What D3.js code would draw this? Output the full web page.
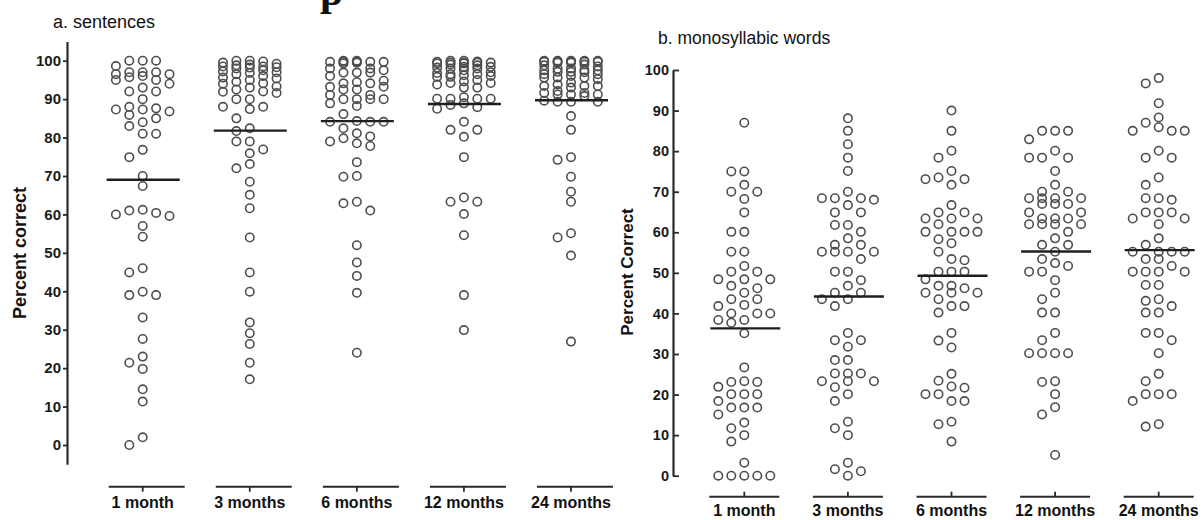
<!DOCTYPE html>
<html>
<head>
<meta charset="utf-8">
<script src="https://cdn.jsdelivr.net/npm/d3@7"></script>
<style>
  body { margin: 0; background: #fff; }
  svg { display: block; }
</style>
</head>
<body>
<svg id="chart" width="1203" height="520"></svg>
<script>
// ---- data ----
const categories = ["1 month", "3 months", "6 months", "12 months", "24 months"];
const yTicks = [0, 10, 20, 30, 40, 50, 60, 70, 80, 90, 100];

// a. sentences (percent correct)
const sent1m = [100, 100, 100, 98.6, 96, 97, 95, 97, 96.5, 97, 94, 95, 96.5, 95.7, 93, 92, 92, 90,
  87.3, 86.8, 88, 87.6, 85.9, 87.3, 85, 84, 83, 81, 81, 76.8, 74.9, 70, 67.4,
  61.2, 60.4, 59.6, 60, 61, 57, 54.2, 44.9, 46, 39, 39, 39.9, 33.2, 27.6,
  23, 21.4, 19.8, 14.5, 11.3, 0, 2];
const sent3m = [100, 99.5, 99.2, 98.5, 100, 99, 98.3, 98.5, 98, 98.2, 97, 96, 95.4, 95.6, 96.8, 97.2,
  94.1, 93.3, 92.5, 91.9, 91.6, 92, 93, 94, 90, 90, 99.8, 98.8, 97.5, 96.5, 95, 94.5,
  88, 87.4, 88, 85, 82.4, 81.7, 79, 79, 76.9, 75.9, 73.1, 72, 68.5, 65.1, 61.6,
  54, 44.9, 39.9, 31.9, 29.1, 26.3, 21.4, 17.1];
const sent6m = [99.7, 99.7, 99.5, 100, 99.7, 100, 99.7, 99.7, 99.3, 98, 96.9, 98, 96.9, 96.9, 97.5, 96,
  94.1, 93.2, 94.1, 93.2, 94.4, 94.8, 92.5, 92.5, 91.1, 90, 91.1, 90, 88.9, 90, 90, 88.2,
  86.1, 84.1, 84.1, 84.3, 84.1, 82.4, 81.1, 80.3, 79, 77.8, 78.5, 79.8, 73.6, 69.8, 70,
  62.9, 61, 63.3, 52, 47.5, 44, 39.6, 24];
const sent12m = [100, 99.5, 99.7, 99.3, 100, 99.5, 99.8, 99.3, 99.5, 98.2, 98.4, 98, 98, 98.4,
  95.8, 96.2, 96.5, 95.8, 96.5, 96, 93.8, 94.2, 93, 94.2, 94.6, 90.1, 90.1, 90.5, 90.1, 90.1,
  88.5, 87.9, 88.9, 87.5, 99, 97.5, 97, 95, 93, 99.5, 98.8, 96.8,
  84.1, 82, 82, 80.2, 74.9, 63.3, 64.4, 63.3, 60.1, 54.6, 39, 29.9];
const sent24m = [100, 99.7, 100, 99.8, 99.8, 99.7, 100, 99.7, 99.5, 100, 97.5, 97.9, 97.5, 97.1, 97.5,
  97.1, 98.5, 98.8, 95.6, 96.5, 95.6, 96, 95.2, 95.6, 93.4, 94.3, 93.4, 93.8, 93, 93.4,
  91.6, 91.2, 92.1, 91.6, 91.2, 91.2, 90.8, 89.6, 89.3, 89.3, 89.3, 99.5, 98, 97, 96.5, 100, 99,
  85.6, 82, 74.9, 74.2, 69.8, 65.9, 63.3, 55.1, 54, 49.3, 26.9];

// b. monosyllabic words (percent correct)
const word1m = [87, 75, 75, 71.7, 70, 70, 68.2, 64.9, 60.1, 60.1, 55.2, 55.2, 51.7, 50.3, 50.3,
  48.4, 48.4, 48.4, 46.8, 46.2, 45.1, 43.5, 43.5, 42.1, 41.8, 40, 40, 40, 38.4, 38.4, 37.7, 35.1,
  26.7, 23.3, 23.1, 23.1, 21.9, 20.1, 20.1, 20.1, 18.4, 16.8, 16.8, 16.8, 15.1, 13.1, 11.7, 10,
  8.4, 3.2, 0, 0, 0, 0, 0];
const word3m = [88.1, 85, 81.7, 78.4, 75.1, 70, 68.4, 68.4, 68.4, 68, 66.7, 64.9, 64.9, 61.8, 61.8,
  60.1, 58.5, 56.9, 56.9, 55.2, 55.2, 55.2, 55.2, 53.4, 50.3, 50.3, 48.2, 46.8, 45.1, 45.1,
  43.5, 43.5, 41.8, 35.2, 33.4, 33.4, 31.8, 28.5, 28.5, 25.2, 25.2, 25.2, 23.3, 23.3, 23.3,
  21.8, 20.1, 18.4, 13.3, 11.7, 10, 3.2, 1.6, 1.1, 0];
const word6m = [90, 85, 80.1, 78.4, 75.1, 73.5, 73.1, 73.1, 71.7, 66.7, 64.9, 64.9, 63.4, 63.4, 63.4,
  62, 60.1, 60.1, 60.1, 60.1, 58.3, 57.3, 55.2, 53.4, 53.1, 50.3, 50.3, 50.3, 48.4, 46.8, 46.2,
  46.8, 45.1, 45.1, 45.1, 43.5, 41.8, 41.8, 40.2, 35.2, 33.3, 31.6, 25.1, 23.4, 22, 21.7,
  20.1, 20.1, 18.4, 18.4, 13.3, 12.7, 8.4];
const word12m = [85, 85, 85, 82.9, 80.1, 78.4, 78.4, 78.4, 75.1, 71.7, 70, 70, 68.4, 68.4, 68.4, 68.4,
  67, 67, 67, 64.9, 64.9, 63.4, 63.4, 63.4, 62, 62, 62, 62, 60.1, 58.5, 56.9, 56.9, 55.2,
  53.4, 52.4, 51.7, 50.3, 50.3, 48.2, 45.1, 43.5, 40.2, 40.2, 35.2, 33.4, 30.2, 30.2, 30.2, 30.2,
  23.3, 23.1, 20.1, 16.9, 15.1, 5.1];
const word24m = [98, 96.7, 91.8, 88.3, 87, 85, 85, 85, 85.9, 80.1, 78.4, 78.4, 73.5, 71.7, 68.4, 68.4,
  68, 64.9, 64.9, 64.9, 63.4, 63.4, 62, 58.5, 56.9, 55.2, 55.2, 55.2, 55.2, 53.4, 53.4, 51.7,
  50.3, 50.3, 50.3, 50.3, 47, 47, 43.1, 43.5, 41.8, 40.2, 40.2, 35.2, 35.2, 33.4, 30.2,
  25.1, 23.3, 20.1, 20.1, 20.1, 18.4, 12.1, 12.7];

const svg = d3.select("#chart");
const FONT = "'Liberation Sans', Arial, Helvetica, sans-serif";

// heading glyph that is cropped at the top edge in the original
svg.append("text")
  .attr("x", 320).attr("y", 5)
  .style("font-family", "'Liberation Serif', 'Times New Roman', serif")
  .style("font-weight", "bold").style("font-size", "42px")
  .attr("fill", "#111")
  .text("p");

// simple GraphPad-like column scatter: slots next to each other
function swarm(values, cx, y, step, minDist) {
  const slots = [0, -1, 1, -2, 2];
  const placed = [];
  values.slice().sort((a, b) => b - a).forEach(v => {
    const py = y(v);
    let pick = null, fallback = cx, bestD = -1;
    for (const k of slots) {
      const px = cx + k * step;
      let dmin = Infinity;
      placed.forEach(p => {
        const d = Math.hypot(p.x - px, p.y - py);
        if (d < dmin) dmin = d;
      });
      if (dmin >= minDist) { pick = px; break; }
      if (dmin > bestD) { bestD = dmin; fallback = px; }
    }
    placed.push({ x: pick === null ? fallback : pick, y: py, v: v });
  });
  return placed;
}

function drawPanel(cfg) {
  const g = svg.append("g");

  const x = d3.scalePoint().domain(categories).range(cfg.xRange);
  const y = d3.scaleLinear().domain([0, 100]).range(cfg.yRange);
  const yAxisScale = d3.scaleLinear().domain(cfg.axisDomain)
    .range([y(cfg.axisDomain[0]), y(cfg.axisDomain[1])]);

  // title
  g.append("text")
    .attr("x", cfg.title.x).attr("y", cfg.title.y)
    .style("font-family", FONT).style("font-size", cfg.title.size + "px")
    .attr("fill", "#111")
    .text(cfg.title.text);

  // y axis
  const axis = d3.axisLeft(yAxisScale)
    .tickValues(yTicks)
    .tickSizeInner(cfg.tickSize)
    .tickSizeOuter(0)
    .tickPadding(cfg.tickPad);
  const ya = g.append("g")
    .attr("transform", `translate(${cfg.axisX},0)`)
    .call(axis);
  ya.select(".domain").attr("stroke", "#2a2a2a").attr("stroke-width", 2.2);
  ya.selectAll(".tick line").attr("stroke", "#2a2a2a").attr("stroke-width", 1.8);
  ya.selectAll(".tick text")
    .style("font-family", FONT).style("font-weight", "bold")
    .style("font-size", cfg.tickFont + "px").attr("fill", "#1a1a1a");

  // y axis title
  g.append("text")
    .attr("transform", `translate(${cfg.yTitle.x},${cfg.yTitle.y}) rotate(-90)`)
    .attr("text-anchor", "middle")
    .style("font-family", FONT).style("font-weight", "bold")
    .style("font-size", cfg.yTitle.size + "px").attr("fill", "#111")
    .text(cfg.yTitle.text);

  // x axis: one short segment per group
  categories.forEach((c, i) => {
    const cx = x(c);
    g.append("line")
      .attr("x1", cx + cfg.seg[0]).attr("x2", cx + cfg.seg[1])
      .attr("y1", cfg.baseY).attr("y2", cfg.baseY)
      .attr("stroke", "#2a2a2a").attr("stroke-width", 2);
    g.append("line")
      .attr("x1", cx).attr("x2", cx)
      .attr("y1", cfg.baseY).attr("y2", cfg.baseY + cfg.xTick)
      .attr("stroke", "#2a2a2a").attr("stroke-width", 1.8);
    g.append("text")
      .attr("x", cx).attr("y", cfg.labelY)
      .attr("text-anchor", "middle")
      .style("font-family", FONT).style("font-weight", "bold")
      .style("font-size", cfg.labelFont + "px").attr("fill", "#111")
      .text(c);

    const vals = cfg.series[i];
    const pts = swarm(vals, cx, y, cfg.step, 9.6);
    g.append("g").selectAll("circle")
      .data(pts)
      .join("circle")
      .attr("cx", d => d.x)
      .attr("cy", d => d.y)
      .attr("r", 4.2)
      .attr("fill", "none")
      .attr("stroke", "#4e4e4e")
      .attr("stroke-width", 1.6);

    const m = d3.mean(vals);
    g.append("line")
      .attr("x1", cx + cfg.meanSeg[0]).attr("x2", cx + cfg.meanSeg[1])
      .attr("y1", y(m)).attr("y2", y(m))
      .attr("stroke", "#1e1e1e").attr("stroke-width", 2.4);
  });
}

drawPanel({
  title: { text: "a. sentences", x: 53, y: 28, size: 18 },
  yTitle: { text: "Percent correct", x: 26, y: 253, size: 18 },
  xRange: [142.7, 571],
  yRange: [445, 60.7],
  axisDomain: [-5, 105],
  axisX: 67,
  tickSize: 4, tickPad: 2, tickFont: 15,
  step: 13.4,
  seg: [-34, 42], baseY: 486.7, xTick: 5,
  labelY: 508, labelFont: 16,
  meanSeg: [-36, 37],
  series: [sent1m, sent3m, sent6m, sent12m, sent24m]
});

drawPanel({
  title: { text: "b. monosyllabic words", x: 658, y: 44, size: 17.5 },
  yTitle: { text: "Percent Correct", x: 633, y: 272, size: 17 },
  xRange: [744.3, 1158.7],
  yRange: [475.7, 70],
  axisDomain: [0, 100],
  axisX: 673,
  tickSize: -6, tickPad: 4, tickFont: 14.5,
  step: 13,
  seg: [-35, 35], baseY: 496.7, xTick: -5,
  labelY: 516, labelFont: 16,
  meanSeg: [-34, 36],
  series: [word1m, word3m, word6m, word12m, word24m]
});
</script>
</body>
</html>
